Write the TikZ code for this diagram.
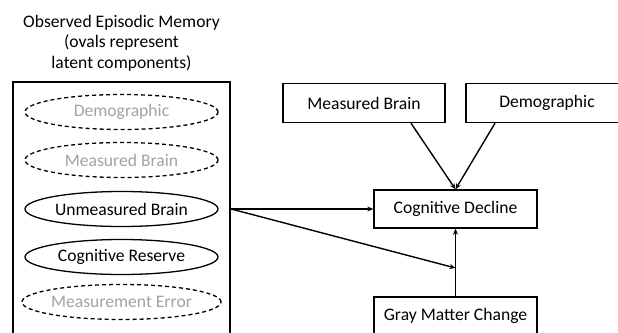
\documentclass[tikz,border=0pt]{standalone}
\usepackage{fontspec}
\setmainfont{Carlito}
\usetikzlibrary{shapes.geometric,arrows.meta}
\definecolor{lightgraytext}{HTML}{A3A3A3}
\begin{document}
\begin{tikzpicture}[x=1pt,y=-1pt,
  every node/.style={font=\fontsize{17.6}{20.5}\selectfont},
  boxnode/.style={draw,line width=1.4pt,minimum width=162pt,minimum height=39pt,inner sep=0pt},
  ovalsolid/.style={draw,ellipse,line width=1.3pt,minimum width=193pt,minimum height=35pt,inner sep=0pt},
  ovaldash/.style={ovalsolid,dash pattern=on 4pt off 3pt,text=lightgraytext},
  arr/.style={line width=1.4pt,-{Stealth[length=6pt,width=5pt]}}
]
\useasboundingbox (0,0) rectangle (618,332);
\clip (0,0) rectangle (618,332);
\fill[white] (0,0) rectangle (618,332);

\node[align=center] (title) at (121.5,43) {Observed Episodic Memory\\(ovals represent\\latent components)};
\node[draw,line width=2.2pt,minimum width=217pt,minimum height=262pt,inner sep=0pt,anchor=north west] (obs) at (12,81) {};

\node[ovaldash] (dem) at (121.5,112) {Demographic};
\node[ovaldash] (mb) at (121.5,160) {Measured Brain};
\node[ovalsolid] (ub) at (121.5,209) {Unmeasured Brain};
\node[ovalsolid] (cr) at (121.5,257) {Cognitive Reserve};
\node[ovaldash] (me) at (121.5,302) {Measurement Error};

\node[boxnode] (rmb) at (364,103) {Measured Brain};
\node[boxnode] (rdem) at (547,103) {Demographic};
\node[boxnode,minimum width=163pt,minimum height=38pt] (cd) at (455.5,209) {Cognitive Decline};
\node[boxnode,minimum width=163pt,minimum height=38pt] (gm) at (455.5,316) {Gray Matter Change};

\coordinate (j) at (455.5,268);
\coordinate (src) at (obs.east |- ub);

\draw[arr] (rmb.south -| 411,0) -- (cd.north);
\draw[arr] (rdem.south -| 495,0) -- (cd.north);
\draw[arr] (src) -- (cd.west);
\draw[arr] (src) -- (j);
\draw[arr] (gm.north) -- (cd.south);
\end{tikzpicture}
\end{document}
